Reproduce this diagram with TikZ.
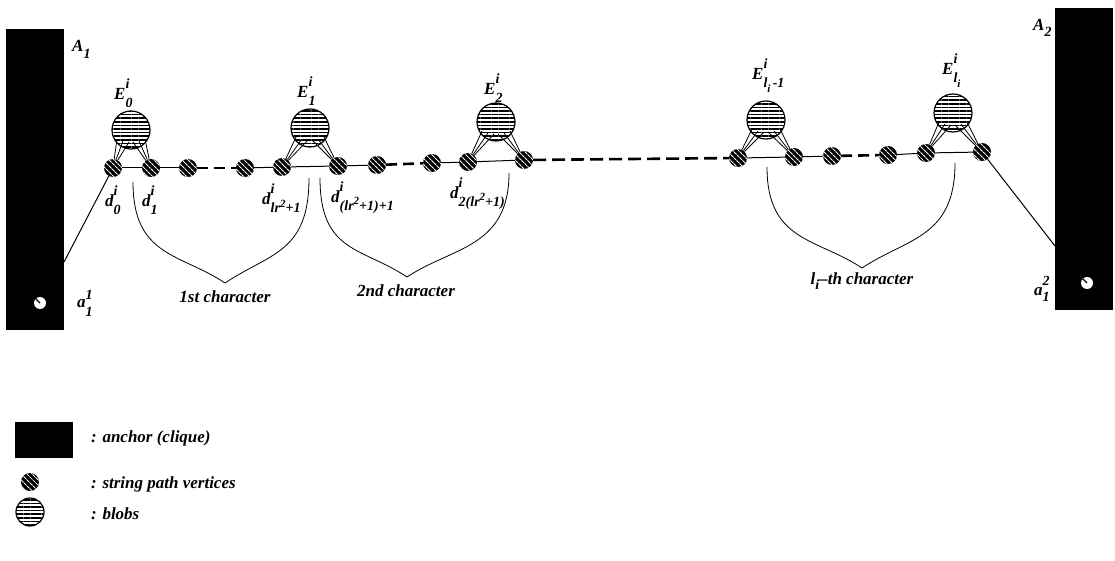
\documentclass[tikz,border=0pt]{standalone}
\usepackage{fontspec}
\setmainfont{Liberation Serif}
\usetikzlibrary{patterns.meta,calc}
\newcommand\bs[1]{{\fontsize{14}{14}\selectfont #1}}
\newcommand\bss[1]{{\fontsize{11}{11}\selectfont #1}}
\newcommand\lbl[3]{#1\rlap{\raisebox{11pt}{\bs{#2}}}\raisebox{-8pt}{\bs{#3}}}
\newcommand\sqr{\raisebox{6pt}{\bss{2}}}
\begin{document}
\begin{tikzpicture}[x=1pt,y=-1pt,
 lab/.style={font=\fontsize{17}{20}\selectfont\bfseries\itshape, inner sep=0pt},
 bl/.style={lab, anchor=base west},
 anchorbox/.style={fill=black, inner sep=0pt},
 vtx/.style={circle, minimum size=18pt, inner sep=0pt, fill=black,
   postaction={pattern={Lines[angle=-45,distance=4pt,line width=1.1pt]}, pattern color=white}},
 blob/.style={circle, minimum size=38pt, inner sep=0pt, draw=black, line width=1.2pt, fill=white,
   postaction={pattern={Lines[angle=0,distance=3.6pt,line width=1.6pt]}, pattern color=black}},
 pathline/.style={line width=1pt},
 gapline/.style={line width=2.6pt, dash pattern=on 11pt off 6pt},
 fan/.style={line width=0.8pt},
 brace/.style={line width=0.8pt},
 hole/.style={circle, fill=white, minimum size=12pt, inner sep=0pt},
]
\useasboundingbox (0,0) rectangle (1115,561);

% anchors
\node[anchorbox, minimum width=58pt, minimum height=301pt] (A1) at (35,179.5) {};
\node[anchorbox, minimum width=58pt, minimum height=302pt] (A2) at (1084,159) {};
\node[bl] (lA1) at (72,52) {A\raisebox{-7pt}{\bs{1}}};
\node[bl] (lA2) at (1033,31) {A\raisebox{-6pt}{\bs{2}}};
\node[hole] (h1) at (40,303) {};
\node[hole] (h2) at (1087,283) {};
\draw[line width=1.3pt] (h1.center) -- (h1.135);
\draw[line width=1.3pt] (h2.center) -- (h2.135);
\node[bl] (la1) at (77,307) {a\rlap{\raisebox{8pt}{\bs{1}}}\raisebox{-9pt}{\bs{1}}};
\node[bl] (la2) at (1034,295) {a\rlap{\raisebox{10pt}{\bs{2}}}\raisebox{-6pt}{\bs{1}}};
\coordinate (p1) at (64,262);
\coordinate (p2) at (1055,246);

% blobs
\node[blob] (E0) at (131,130) {};
\node[blob] (E1) at (310,128) {};
\node[blob] (E2) at (496,122) {};
\node[blob] (E3) at (766,120) {};
\node[blob] (E4) at (953,113) {};
\node[bl] (lE0) at (114,100) {\lbl{E}{i}{0}};
\node[bl] (lE1) at (297,98) {\lbl{E}{i}{1}};
\node[bl] (lE2) at (484,95) {\lbl{E}{i}{2}};
\node[bl] (lE3) at (752,80) {\lbl{E}{i}{l\raisebox{-5pt}{\bss{i}}\,-1}};
\node[bl] (lE4) at (942,75) {\lbl{E}{i}{l\raisebox{-5pt}{\bss{i}}}};

% vertices
\node[vtx] (v1) at (113,168) {};
\node[vtx] (v2) at (151,168) {};
\node[vtx] (v3) at (188,168) {};
\node[vtx] (v4) at (245,168) {};
\node[vtx] (v5) at (282,167) {};
\node[vtx] (v6) at (338,166) {};
\node[vtx] (v7) at (377,165) {};
\node[vtx] (v8) at (432,163) {};
\node[vtx] (v9) at (468,162) {};
\node[vtx] (v10) at (524,160) {};
\node[vtx] (v11) at (738,158) {};
\node[vtx] (v12) at (794,157) {};
\node[vtx] (v13) at (832,156) {};
\node[vtx] (v14) at (888,155) {};
\node[vtx] (v15) at (926,153) {};
\node[vtx] (v16) at (982,152) {};

% path edges
\draw[pathline] (v1) -- (v2);
\draw[pathline] (v2) -- (v3);
\draw[gapline] (v3) -- (v4);
\draw[pathline] (v4) -- (v5);
\draw[pathline] (v5) -- (v6);
\draw[pathline] (v6) -- (v7);
\draw[gapline] (v7) -- (v8);
\draw[pathline] (v8) -- (v9);
\draw[pathline] (v9) -- (v10);
\draw[gapline, dash pattern=on 13pt off 6pt] (v10) -- (v11);
\draw[pathline] (v11) -- (v12);
\draw[pathline] (v12) -- (v13);
\draw[gapline] (v13) -- (v14);
\draw[pathline] (v14) -- (v15);
\draw[pathline] (v15) -- (v16);
\draw[pathline] (v1) -- (p1);
\draw[pathline] (v16) -- (p2);

% fans
\foreach \b/\l/\r in {E0/v1/v2, E1/v5/v6, E2/v9/v10, E3/v11/v12, E4/v15/v16}{
  \foreach \dx/\dy in {-14/9,-8/11,-2/12}{
    \draw[fan] (\l) -- ($(\b)+(\dx,\dy)$);
  }
  \foreach \dx/\dy in {2/12,8/11,14/9}{
    \draw[fan] (\r) -- ($(\b)+(\dx,\dy)$);
  }
}

% vertex labels
\node[bl] (ld0) at (105,207) {\lbl{d}{i}{0}};
\node[bl] (ld1) at (142,207) {\lbl{d}{i}{1}};
\node[bl] (ld2) at (262,205) {\lbl{d}{i}{lr\sqr+1}};
\node[bl] (ld3) at (331,203) {\lbl{d}{i}{(lr\sqr+1)+1}};
\node[bl] (ld4) at (450,199) {\lbl{d}{i}{2(lr\sqr+1)}};

% braces
\coordinate (b1l) at (133,182); \coordinate (b1r) at (309,178); \coordinate (b1t) at (225,283);
\coordinate (b2l) at (320,178); \coordinate (b2r) at (509,173); \coordinate (b2t) at (407,277);
\coordinate (b3l) at (767,167); \coordinate (b3r) at (955,163); \coordinate (b3t) at (862,268);
\foreach \n in {1,2,3}{
  \draw[brace] (b\n l) .. controls +(0,75) and +(-45,-30) .. (b\n t);
  \draw[brace] (b\n r) .. controls +(0,75) and +(45,-30) .. (b\n t);
}
\node[lab] (c1) at (225,297) {1st character};
\node[lab] (c2) at (406,291) {2nd character};
\node[lab] (c3) at (862,281) {l\raisebox{-5pt}{\bs{i}}--th character};

% legend
\node[anchorbox, minimum width=58pt, minimum height=36pt] (gA) at (44,440) {};
\node[vtx] (gV) at (30,482) {};
\node[blob, minimum size=28pt] (gB) at (30,512) {};
\node[lab, anchor=west] (tA) at (91,438) {: anchor (clique)};
\node[lab, anchor=west] (tV) at (91,484) {: string path vertices};
\node[lab, anchor=west] (tB) at (91,514) {: blobs};
\end{tikzpicture}
\end{document}
